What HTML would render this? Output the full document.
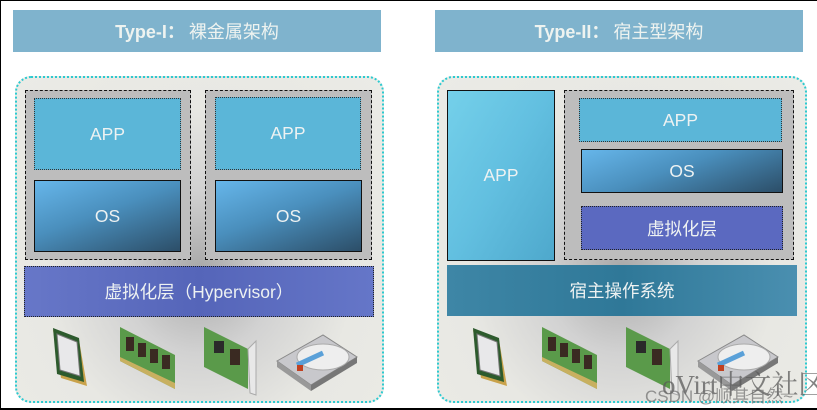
<!DOCTYPE html>
<html><head><meta charset="utf-8"><style>
*{margin:0;padding:0;box-sizing:border-box}
body{width:817px;height:410px;background:#fff;position:relative;overflow:hidden;font-family:"Liberation Sans","Noto Sans CJK SC",sans-serif}
.a{position:absolute}
.frame{left:0;top:0;width:817px;height:410px;border-left:1px solid #000;border-top:1px solid #000;border-bottom:2px solid #000}
.title{background:#7fb3cd;color:#eef3f0;font-size:18px;display:flex;align-items:center;justify-content:center;height:42px;top:10px}
.title b{font-weight:bold;margin-right:4px}
.cont{top:76px;height:327px;border:2px dotted #2ccad0;border-radius:16px;background:radial-gradient(ellipse at 50% 60%,#a8a8a8 0%,#d2d2d2 30%,#e8e8e3 60%,#ebebe6 100%)}
.dash{border:1px dashed #111;background:#bdbdbd}
.lbl{display:flex;align-items:center;justify-content:center;color:#eef2f2;font-size:17.5px}
.app{background:#5bb6d8;border:1px dotted #333}
.os{background:linear-gradient(160deg,#66b6ea 0%,#4a8fbd 45%,#2c4e68 100%);border:1.5px solid #111}
.hyp{background:linear-gradient(90deg,#6777c8,#5565b9 50%,#6576c8);border:1px dotted #222}
.host{background:linear-gradient(90deg,#3e86a6,#2f7898 50%,#4a8fb0)}
</style></head><body>
<div class="a frame"></div>
<div class="a title" style="left:13px;width:368px"><b>Type-I：</b>裸金属架构</div>
<div class="a title" style="left:435px;width:368px"><b>Type-II：</b>宿主型架构</div>

<div class="a cont" style="left:15px;width:369px"></div>
<div class="a cont" style="left:437px;width:370px"></div>

<div class="a dash" style="left:25px;top:90px;width:166px;height:170px"></div>
<div class="a dash" style="left:205px;top:90px;width:167px;height:170px"></div>
<div class="a lbl app" style="left:34px;top:98px;width:147px;height:72px">APP</div>
<div class="a lbl os" style="left:34px;top:180px;width:147px;height:72px">OS</div>
<div class="a lbl app" style="left:215px;top:97px;width:146px;height:73px">APP</div>
<div class="a lbl os" style="left:215px;top:180px;width:147px;height:72px">OS</div>
<div class="a lbl hyp" style="left:24px;top:266px;width:350px;height:51px">虚拟化层（Hypervisor）</div>

<div class="a lbl" style="left:447px;top:90px;width:108px;height:171px;border:1.5px solid #111;background:linear-gradient(120deg,#74d0ea,#62bfe0 50%,#4ea8cc)">APP</div>
<div class="a dash" style="left:564px;top:90px;width:230px;height:170px"></div>
<div class="a lbl app" style="left:579px;top:98px;width:203px;height:44px">APP</div>
<div class="a lbl os" style="left:581px;top:149px;width:202px;height:44px">OS</div>
<div class="a lbl hyp" style="left:581px;top:206px;width:202px;height:44px;background:#5b69c0">虚拟化层</div>
<div class="a lbl host" style="left:447px;top:265px;width:350px;height:51px">宿主操作系统</div>

<svg class="a" style="left:0;top:0" width="817" height="410">
<defs>
<g id="cpu"><polygon points="0,2 26,12 34,58 8,50" fill="#c9a24a"/><polygon points="0,0 26,10 31,54 4,46" fill="#2d5a2d"/><polygon points="4,6 24,14 27,48 7,42" fill="#e8e8ea" stroke="#777"/></g>
<g id="ram"><polygon points="0,0 55,28 55,62 0,34" fill="#5a9a4a"/><polygon points="0,30 55,56 55,62 0,34" fill="#c8b060"/><g fill="#3a2a22"><rect x="6" y="10" width="8" height="14"/><rect x="18" y="16" width="8" height="14"/><rect x="30" y="22" width="8" height="14"/><rect x="42" y="28" width="8" height="14"/></g></g>
<g id="card"><polygon points="0,0 44,22 44,62 0,40" fill="#5a9a4a"/><rect x="10" y="14" width="10" height="12" fill="#2a2a2a"/><rect x="26" y="22" width="10" height="16" fill="#3a2a22"/><polygon points="44,22 52,14 52,68 46,66" fill="#e8e8e8" stroke="#aaa"/></g>
<g id="hdd"><polygon points="0,26 46,0 80,22 34,50" fill="#c8c8cc" stroke="#888"/><polygon points="0,26 34,50 34,56 0,32" fill="#999"/><polygon points="34,50 80,22 80,28 34,56" fill="#777"/><ellipse cx="46" cy="22" rx="26" ry="13" fill="#eee" stroke="#aaa"/><line x1="20" y1="30" x2="46" y2="18" stroke="#5aa0d8" stroke-width="5"/><rect x="20" y="30" width="6" height="6" fill="#c04020"/></g>
</defs>
<use href="#cpu" x="53" y="328"/><use href="#ram" x="120" y="327"/><use href="#card" x="204" y="327"/><use href="#hdd" x="277" y="335"/>
<use href="#cpu" x="473" y="328"/><use href="#ram" x="542" y="327"/><use href="#card" x="626" y="327"/><use href="#hdd" x="698" y="335"/>
</svg>
<div class="a" style="left:662px;top:363px;font-size:27px;color:rgba(90,90,90,.75);font-family:'Liberation Serif','Noto Serif CJK SC',serif;white-space:nowrap">oVirt中文社区</div>
<div class="a" style="left:645px;top:382px;font-size:17px;color:rgba(110,110,110,.7);white-space:nowrap">CSDN @顺其自然~</div>
</body></html>
